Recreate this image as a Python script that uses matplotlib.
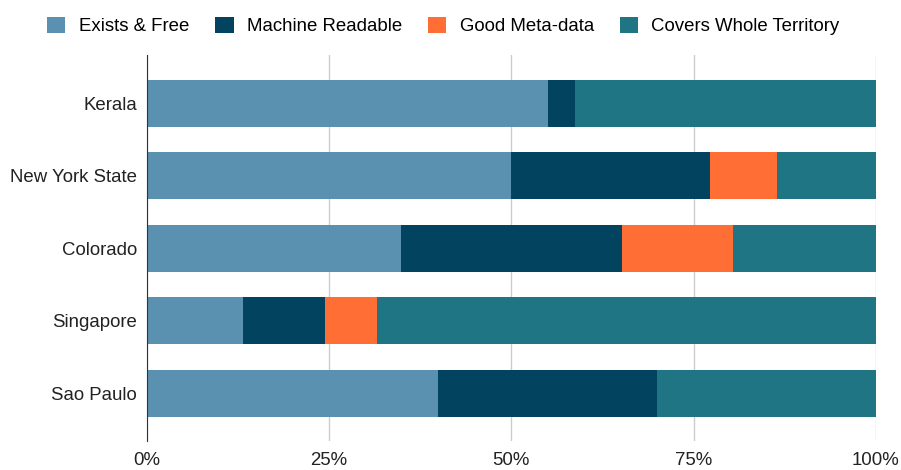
import matplotlib
matplotlib.use("Agg")
import matplotlib.pyplot as plt
import numpy as np

plt.rcParams["font.family"] = ["Liberation Sans", "DejaVu Sans"]

regions = ["Kerala", "New York State", "Colorado", "Singapore", "Sao Paulo"]
series = ["Exists & Free", "Machine Readable", "Good Meta-data", "Covers Whole Territory"]
exists_free = [55.1, 50.0, 34.8, 13.2, 40.0]
machine_readable = [3.6, 27.3, 30.4, 11.2, 30.0]
good_metadata = [0.0, 9.1, 15.2, 7.2, 0.0]
whole_territory = [41.3, 13.6, 19.6, 68.4, 30.0]
colors = ["#5A91B0", "#02445F", "#FE6E35", "#1F7583"]

fig = plt.figure(figsize=(9.01, 4.70), dpi=100)
ax = fig.add_axes([0.163, 0.062, 0.809, 0.821])

y = np.arange(len(regions))
left = np.zeros(len(regions))
for name, vals, col in zip(series,
                           [exists_free, machine_readable, good_metadata, whole_territory],
                           colors):
    vals = np.array(vals)
    ax.barh(y, vals, left=left, height=0.65, color=col, label=name, zorder=2)
    left += vals

ax.set_ylim(len(regions) - 1 + 0.66, -0.67)
ax.set_xlim(0, 100)
ax.set_yticks(y)
ax.set_yticklabels(regions, fontsize=13.4, color="#222222")
ax.set_xticks([0, 25, 50, 75, 100])
ax.set_xticklabels(["0%", "25%", "50%", "75%", "100%"], fontsize=13.4, color="#222222")
ax.tick_params(axis="y", length=0, pad=7)
ax.tick_params(axis="x", length=0, pad=8)
ax.xaxis.grid(True, color="#cccccc", linewidth=1, zorder=0)
for s in ["top", "right", "bottom"]:
    ax.spines[s].set_visible(False)
ax.spines["left"].set_color("#333333")
ax.spines["left"].set_zorder(3)

fig.legend(loc="upper center", bbox_to_anchor=(0.492, 1.0), ncol=4, frameon=False,
           fontsize=13.4, handlelength=1.0, handleheight=1.0, columnspacing=1.4,
           handletextpad=0.7)

fig.savefig("out.png", dpi=100)
